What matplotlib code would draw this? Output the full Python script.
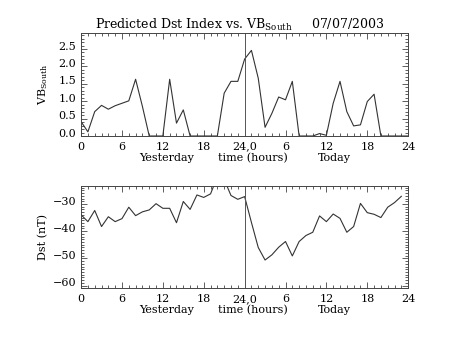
import numpy as np
import matplotlib
matplotlib.use('Agg')
import matplotlib.pyplot as plt
import matplotlib.transforms as mtransforms
from matplotlib.ticker import MultipleLocator

plt.rcParams['font.family'] = 'DejaVu Serif'
plt.rcParams['mathtext.fontset'] = 'custom'
plt.rcParams['mathtext.rm'] = 'DejaVu Serif'

# hourly values, yesterday 00h .. today 24h
hours_vb = np.arange(49)
vb_south = [0.41, 0.12, 0.70, 0.88, 0.77, 0.87, 0.94, 1.01, 1.63, 0.85,
            0.0, 0.0, 0.0, 1.63, 0.37, 0.75, 0.0, 0.0, 0.0, 0.0,
            0.0, 1.23, 1.57, 1.57, 2.21, 2.46, 1.66, 0.25, 0.65, 1.12,
            1.04, 1.57, 0.0, 0.0, 0.0, 0.07, 0.02, 0.94, 1.57, 0.70,
            0.29, 0.32, 0.99, 1.20, 0.0, 0.0, 0.0, 0.0, 0.0]

hours_dst = np.arange(48)
dst = [-34.0, -36.5, -32.4, -38.3, -34.7, -36.5, -35.4, -31.2, -34.3, -32.9,
       -32.2, -29.9, -31.6, -31.6, -36.9, -29.1, -32.0, -26.7, -27.6, -26.3,
       -20.0, -21.0, -26.9, -28.3, -27.3, -36.8, -46.0, -50.6, -48.7, -45.9,
       -43.8, -49.1, -43.8, -41.6, -40.4, -34.4, -36.5, -33.7, -35.3, -40.4,
       -38.3, -29.8, -33.2, -33.8, -35.0, -31.2, -29.5, -27.2]

xtick_pos = [0, 6, 12, 18, 24, 30, 36, 42, 48]
xtick_labels = ['0', '6', '12', '18', '24,0', '6', '12', '18', '24']

fig = plt.figure(figsize=(4.53, 3.4), dpi=100)
ax1 = fig.add_axes([0.179, 0.600, 0.722, 0.302])
ax2 = fig.add_axes([0.179, 0.152, 0.722, 0.301])

lab_shift = mtransforms.ScaledTranslation(0, 3.3 / 100, fig.dpi_scale_trans)


def style_axis(ax):
	ax.set_xlim(0, 48)
	ax.set_xticks(xtick_pos)
	ax.set_xticklabels(xtick_labels)
	ax.xaxis.set_minor_locator(MultipleLocator(1))
	ax.tick_params(which='both', direction='in', top=True, right=True,
				   labelsize=8, color='#444444', width=0.6)
	ax.tick_params(which='major', length=4)
	ax.tick_params(which='minor', length=2)
	ax.tick_params(axis='x', pad=4)
	for sp in ax.spines.values():
		sp.set_linewidth(0.7)
		sp.set_color('#444444')
	for lbl in ax.get_yticklabels():
		lbl.set_transform(lbl.get_transform() + lab_shift)
	ax.axvline(24, color='#555555', lw=0.7)
	xt = ax.get_xaxis_transform()
	ax.text(12.5, -0.245, 'Yesterday', transform=xt, ha='center', va='baseline', fontsize=8)
	ax.text(25.2, -0.245, 'time (hours)', transform=xt, ha='center', va='baseline', fontsize=8)
	ax.text(37.2, -0.245, 'Today', transform=xt, ha='center', va='baseline', fontsize=8)


ax1.plot(hours_vb, vb_south, color='#333333', lw=0.8)
ax1.set_ylim(0, 2.95)
ax1.set_yticks([0.0, 0.5, 1.0, 1.5, 2.0, 2.5])
ax1.set_yticklabels(['0.0', '0.5', '1.0', '1.5', '2.0', '2.5'])
ax1.yaxis.set_minor_locator(MultipleLocator(0.1))
style_axis(ax1)
ax1.set_ylabel(r'VB$_{\rm South}$', fontsize=8)
ax1.yaxis.set_label_coords(-0.095, 0.5)

ax2.plot(hours_dst, dst, color='#333333', lw=0.8)
ax2.set_ylim(-61, -23.4)
ax2.set_yticks([-60, -50, -40, -30])
ax2.yaxis.set_minor_locator(MultipleLocator(1))
style_axis(ax2)
ax2.set_ylabel('Dst (nT)', fontsize=8)
ax2.yaxis.set_label_coords(-0.10, 0.5)

fig.text(0.529, 0.915, r'Predicted Dst Index vs. VB$_{\rm South}$     07/07/2003',
		 ha='center', va='baseline', fontsize=9)

fig.savefig('out.png', dpi=100)
